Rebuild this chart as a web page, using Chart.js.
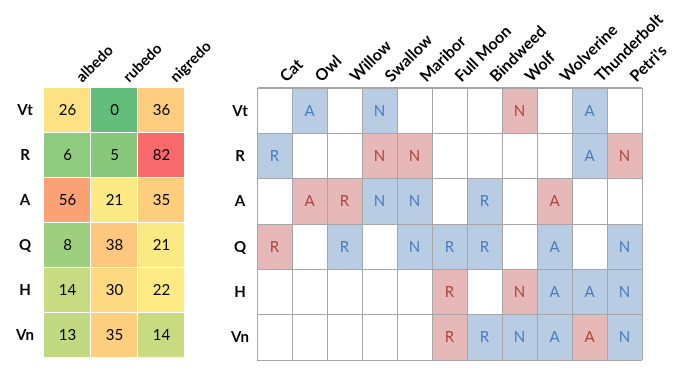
<!DOCTYPE html>
<html lang="en">
<head>
  <meta charset="UTF-8">
  <title>Stages and symbols</title>
  <script src="https://cdn.jsdelivr.net/npm/chart.js"></script>
  <style>
    html, body { margin: 0; padding: 0; background: #fff; }
    body { width: 692px; height: 377px; position: relative; overflow: hidden; }
    canvas { position: absolute; top: 0; }
    #stageChart { left: 0; }
    #symbolChart { left: 200px; }
  </style>
</head>
<body>
  <canvas id="stageChart" width="231" height="377" style="width:231px;height:377px"></canvas>
  <canvas id="symbolChart" width="492" height="377" style="width:492px;height:377px"></canvas>
  <script>
    const rowLabels = ['Vt', 'R', 'A', 'Q', 'H', 'Vn'];

    // left table: one array per stage, rows in rowLabels order
    const stages = ['albedo', 'rubedo', 'nigredo'];
    const albedo = [26, 6, 56, 8, 14, 13];
    const rubedo = [0, 5, 21, 38, 30, 35];
    const nigredo = [36, 82, 35, 21, 22, 14];

    // right table: b = blue cell, r = red cell, '' = empty
    const symbols = ['Cat', 'Owl', 'Willow', 'Swallow', 'Maribor', 'Full Moon', 'Bindweed', 'Wolf', 'Wolverine', 'Thunderbolt', "Petri's"];
    const rowVt = ['', 'bA', '', 'bN', '', '', '', 'rN', '', 'bA', ''];
    const rowR  = ['bR', '', '', 'rN', 'rN', '', '', '', '', 'bA', 'rN'];
    const rowA  = ['', 'rA', 'rR', 'bN', 'bN', '', 'bR', '', 'rA', '', ''];
    const rowQ  = ['rR', '', 'bR', '', 'bN', 'bR', 'bR', '', 'bA', '', 'bN'];
    const rowH  = ['', '', '', '', '', 'rR', '', 'rN', 'bA', 'bA', 'bN'];
    const rowVn = ['', '', '', '', '', 'rR', 'bR', 'bN', 'bA', 'rA', 'bN'];

    const stageSeries = [albedo, rubedo, nigredo];
    const symbolRows = [rowVt, rowR, rowA, rowQ, rowH, rowVn];

    const tones = {
      b: { fill: '#b8cce4', text: '#4a7ebb' },
      r: { fill: '#e6b8b7', text: '#b0443f' }
    };

    // excel-like 3 colour scale: green -> yellow (median) -> red
    const allValues = albedo.concat(rubedo, nigredo).sort((a, b) => a - b);
    const vMin = allValues[0];
    const vMax = allValues[allValues.length - 1];
    const mid = allValues.length / 2;
    const vMid = (allValues[mid - 1] + allValues[mid]) / 2;
    const green = [99, 190, 123], yellow = [255, 235, 132], red = [248, 105, 107];
    function mix(a, b, t) {
      return 'rgb(' + a.map((c, i) => Math.round(c + (b[i] - c) * t)).join(',') + ')';
    }
    function heatColor(v) {
      if (v <= vMid) return mix(green, yellow, (v - vMin) / (vMid - vMin));
      return mix(yellow, red, (v - vMid) / (vMax - vMid));
    }

    const labelFont = { family: 'Lato', size: 15, weight: 'bold' };
    const symbolFont = { family: 'Lato', size: 16, weight: 'bold' };

    function cellSize(chart) {
      const { x, y } = chart.scales;
      return [x.getPixelForValue(1) - x.getPixelForValue(0), y.getPixelForValue(1) - y.getPixelForValue(0)];
    }

    const heatPlugin = {
      id: 'heat',
      afterDatasetsDraw(chart) {
        const { ctx, scales: { x, y } } = chart;
        const [cw, ch] = cellSize(chart);
        ctx.save();
        ctx.font = '15px Lato';
        ctx.textAlign = 'center';
        ctx.textBaseline = 'middle';
        stageSeries.forEach((vals, ci) => {
          vals.forEach((v, ri) => {
            const cx = x.getPixelForValue(ci);
            const cy = y.getPixelForValue(ri);
            ctx.fillStyle = heatColor(v);
            ctx.fillRect(cx - cw / 2, cy - ch / 2, cw - 1, ch - 1);
            ctx.fillStyle = '#000';
            ctx.fillText(String(v), cx, cy);
          });
        });
        ctx.restore();
      }
    };

    const cellPlugin = {
      id: 'cells',
      afterDatasetsDraw(chart) {
        const { ctx, scales: { x, y } } = chart;
        const [cw, ch] = cellSize(chart);
        ctx.save();
        ctx.font = '15px Lato';
        ctx.textAlign = 'center';
        ctx.textBaseline = 'middle';
        symbolRows.forEach((row, ri) => {
          row.forEach((mark, ci) => {
            if (!mark) return;
            const tone = tones[mark[0]];
            const cx = x.getPixelForValue(ci);
            const cy = y.getPixelForValue(ri);
            ctx.fillStyle = tone.fill;
            ctx.fillRect(cx - cw / 2, cy - ch / 2, cw, ch);
            ctx.fillStyle = tone.text;
            ctx.fillText(mark.slice(1), cx, cy);
          });
        });
        ctx.restore();
      }
    };

    const stageChart = new Chart(document.getElementById('stageChart'), {
      type: 'bar',
      data: { labels: stages, datasets: [] },
      options: {
        responsive: false,
        animation: false,
        layout: { padding: { left: 0, top: 0, right: 46, bottom: 7 } },
        plugins: { legend: { display: false }, tooltip: { enabled: false } },
        scales: {
          x: {
            type: 'category',
            position: 'top',
            labels: stages,
            offset: true,
            grid: { display: false, drawTicks: false },
            border: { display: false },
            ticks: { font: labelFont, color: '#000', minRotation: 45, maxRotation: 45, autoSkip: false, padding: 2, labelOffset: 24 },
            afterFit: (s) => { s.height = 88; }
          },
          y: {
            type: 'category',
            labels: rowLabels,
            offset: true,
            grid: { display: false, drawTicks: false },
            border: { display: false },
            ticks: { font: labelFont, color: '#000', crossAlign: 'center', padding: 10 },
            afterFit: (s) => { s.width = 44; }
          }
        }
      },
      plugins: [heatPlugin]
    });

    const symbolChart = new Chart(document.getElementById('symbolChart'), {
      type: 'bar',
      data: { labels: symbols, datasets: [] },
      options: {
        responsive: false,
        animation: false,
        layout: { padding: { left: 0, top: 0, right: 50, bottom: 7 } },
        plugins: { legend: { display: false }, tooltip: { enabled: false } },
        scales: {
          x: {
            type: 'category',
            position: 'top',
            labels: symbols,
            offset: true,
            grid: { display: true, offset: true, drawTicks: false, color: '#a6a6a6', z: 1 },
            border: { display: true, color: '#a6a6a6', z: 1 },
            ticks: { font: symbolFont, color: '#000', minRotation: 45, maxRotation: 45, autoSkip: false, padding: 2, labelOffset: 22 },
            afterFit: (s) => { s.height = 88; }
          },
          y: {
            type: 'category',
            labels: rowLabels,
            offset: true,
            grid: { display: true, offset: true, drawTicks: false, color: '#a6a6a6', z: 1 },
            border: { display: true, color: '#a6a6a6', z: 1 },
            ticks: { font: labelFont, color: '#000', crossAlign: 'center', padding: 8 },
            afterFit: (s) => { s.width = 57; }
          }
        }
      },
      plugins: [cellPlugin]
    });
  </script>
</body>
</html>
